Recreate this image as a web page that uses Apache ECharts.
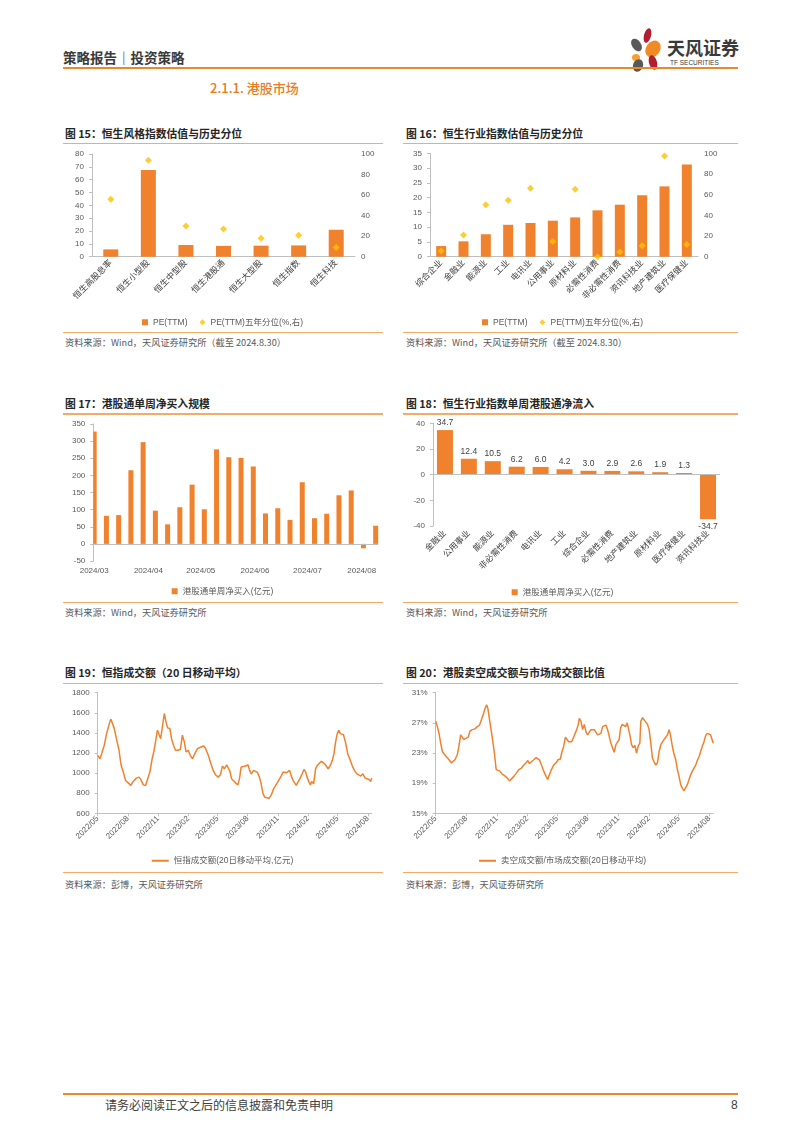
<!DOCTYPE html>
<html lang="zh">
<head>
<meta charset="utf-8">
<title>港股市场</title>
<script src="https://cdn.jsdelivr.net/npm/echarts/dist/echarts.min.js"></script>
<style>
  html,body{margin:0;padding:0;background:#fff;}
  body{width:802px;height:1133px;position:relative;overflow:hidden;font-family:"Noto Sans CJK SC","Liberation Sans",sans-serif;}
  .a{position:absolute;white-space:nowrap;}
  .hl{position:absolute;height:2px;background:#E9892C;}
  .ln{position:absolute;height:1.5px;background:#F3AB66;}
  .ttl{position:absolute;font-size:10.8px;font-weight:bold;color:#262626;line-height:12px;white-space:nowrap;}
  .src{position:absolute;font-size:9.2px;color:#595959;line-height:11px;white-space:nowrap;}
  .ch{position:absolute;width:325px;height:185px;}
  .petal{position:absolute;border-radius:50%;}
</style>
</head>
<body>
<!-- header -->
<div class="a" style="left:63px;top:49px;font-size:13.5px;line-height:16px;font-weight:bold;color:#3a3a3a;">策略报告｜投资策略</div>
<div class="petal" style="left:644px;top:28px;width:7px;height:15px;background:#B01E2F;transform:rotate(15deg);"></div>
<div class="petal" style="left:632px;top:38px;width:9px;height:14px;background:#595959;transform:rotate(-35deg);"></div>
<div class="petal" style="left:646px;top:40px;width:14px;height:18px;background:#F08A24;transform:rotate(35deg);"></div>
<div class="petal" style="left:632px;top:54px;width:8px;height:7px;background:#F5A030;"></div>
<div class="petal" style="left:649px;top:55px;width:8px;height:15px;background:#B01E2F;transform:rotate(-15deg);"></div>
<div class="petal" style="left:633px;top:59px;width:10px;height:13px;background:#595959;transform:rotate(20deg);"></div>
<div class="a" style="left:667px;top:37px;font-size:18px;line-height:20px;font-weight:bold;color:#3a3a3a;">天风证券</div>
<div class="a" style="left:670px;top:58.5px;font-size:6.5px;line-height:8px;color:#3a3a3a;font-family:'Liberation Sans',sans-serif;">TF SECURITIES</div>
<div class="hl" style="left:63px;top:67px;width:675px;"></div>
<div class="a" style="left:210px;top:80px;font-size:13px;line-height:16px;font-weight:500;color:#E97B23;">2.1.1. 港股市场</div>

<!-- row 1 -->
<div class="ttl" style="left:65px;top:126.7px;">图 15：恒生风格指数估值与历史分位</div>
<div class="ttl" style="left:406px;top:126.7px;">图 16：恒生行业指数估值与历史分位</div>
<div class="ln" style="left:63px;top:142.5px;width:320px;"></div>
<div class="ln" style="left:403px;top:142.5px;width:335px;"></div>
<div id="c15" class="ch" style="left:60px;top:145px;"></div>
<div id="c16" class="ch" style="left:400px;top:145px;"></div>
<div class="ln" style="left:63px;top:331.5px;width:320px;"></div>
<div class="ln" style="left:403px;top:331.5px;width:335px;"></div>
<div class="src" style="left:65px;top:337.2px;">资料来源：Wind，天风证券研究所（截至 2024.8.30）</div>
<div class="src" style="left:406px;top:337.2px;">资料来源：Wind，天风证券研究所（截至 2024.8.30）</div>

<!-- row 2 -->
<div class="ttl" style="left:65px;top:396.7px;">图 17：港股通单周净买入规模</div>
<div class="ttl" style="left:406px;top:396.7px;">图 18：恒生行业指数单周港股通净流入</div>
<div class="ln" style="left:63px;top:413.3px;width:320px;"></div>
<div class="ln" style="left:403px;top:413.3px;width:335px;"></div>
<div id="c17" class="ch" style="left:60px;top:415px;"></div>
<div id="c18" class="ch" style="left:400px;top:415px;"></div>
<div class="ln" style="left:63px;top:601.5px;width:320px;"></div>
<div class="ln" style="left:403px;top:601.5px;width:335px;"></div>
<div class="src" style="left:65px;top:607.2px;">资料来源：Wind，天风证券研究所</div>
<div class="src" style="left:406px;top:607.2px;">资料来源：Wind，天风证券研究所</div>

<!-- row 3 -->
<div class="ttl" style="left:65px;top:665.7px;">图 19：恒指成交额（20 日移动平均）</div>
<div class="ttl" style="left:406px;top:665.7px;">图 20：港股卖空成交额与市场成交额比值</div>
<div class="ln" style="left:63px;top:682.5px;width:320px;"></div>
<div class="ln" style="left:403px;top:682.5px;width:335px;"></div>
<div id="c19" class="ch" style="left:60px;top:685px;"></div>
<div id="c20" class="ch" style="left:400px;top:685px;"></div>
<div class="ln" style="left:63px;top:871.5px;width:320px;"></div>
<div class="ln" style="left:403px;top:871.5px;width:335px;"></div>
<div class="src" style="left:65px;top:878.8px;">资料来源：彭博，天风证券研究所</div>
<div class="src" style="left:406px;top:878.8px;">资料来源：彭博，天风证券研究所</div>

<!-- footer -->
<div class="hl" style="left:63px;top:1093px;width:675px;"></div>
<div class="a" style="left:105px;top:1098px;font-size:12px;line-height:14px;color:#404040;">请务必阅读正文之后的信息披露和免责申明</div>
<div class="a" style="left:731px;top:1098px;font-size:12px;line-height:14px;color:#404040;font-family:'Liberation Sans',sans-serif;">8</div>

<script>
// ---------------- data ----------------
const styleCats = ['恒生高股息率','恒生小型股','恒生中型股','恒生港股通','恒生大型股','恒生指数','恒生科技'];
const stylePE = [5.7, 67.5, 9.1, 8.4, 8.6, 8.8, 21.0];
const stylePct = [56, 94, 30, 27, 18, 21, 9];

const sectorCats = ['综合企业','金融业','能源业','工业','电讯业','公用事业','原材料业','必需性消费','非必需性消费','资讯科技业','地产建筑业','医疗保健业'];
const sectorPE = [3.6, 5.2, 7.6, 10.8, 11.4, 12.2, 13.3, 15.7, 17.6, 20.8, 23.8, 31.2];
const sectorPct = [5.5, 21, 50.3, 54.5, 66.1, 14.8, 65.2, 0, 4.5, 10.6, 97.4, 11.9];

const flowWeeks = ['2024-03-01','2024-03-08','2024-03-15','2024-03-22','2024-03-29','2024-04-05','2024-04-12','2024-04-19','2024-04-26','2024-05-03','2024-05-10','2024-05-17','2024-05-24','2024-05-31','2024-06-07','2024-06-14','2024-06-21','2024-06-28','2024-07-05','2024-07-12','2024-07-19','2024-07-26','2024-08-02','2024-08-09'];
const flowValues = [328, 82, 84, 215, 297, 97, 57, 107, 173, 101, 276, 253, 251, 226, 89, 104, 70, 180, 75, 88, 142, 156, -13, 53];
const flowAxisRange = ['2024-03-01', '2024-08-10'];

const sectorFlowCats = ['金融业','公用事业','能源业','非必需性消费','电讯业','工业','综合企业','必需性消费','地产建筑业','原材料业','医疗保健业','资讯科技业'];
const sectorFlowValues = [34.7, 12.4, 10.5, 6.2, 6.0, 4.2, 3.0, 2.9, 2.6, 1.9, 1.3, -34.7];

const lineAxisRange = ['2022-05-18', '2024-08-30'];
const hsiTurnover = [['2022-05-18',1177],['2022-05-25',1143],['2022-05-30',1193],['2022-06-07',1277],['2022-06-14',1393],['2022-06-19',1450],['2022-06-24',1510],['2022-06-27',1537],['2022-07-02',1520],['2022-07-07',1450],['2022-07-14',1343],['2022-07-22',1227],['2022-07-28',1083],['2022-08-04',1010],['2022-08-11',927],['2022-08-19',903],['2022-08-27',877],['2022-09-03',917],['2022-09-13',950],['2022-09-21',960],['2022-09-27',933],['2022-10-04',883],['2022-10-11',877],['2022-10-17',893],['2022-10-24',1010],['2022-10-31',1143],['2022-11-06',1227],['2022-11-11',1327],['2022-11-16',1427],['2022-11-21',1383],['2022-11-26',1343],['2022-12-01',1460],['2022-12-07',1593],['2022-12-12',1510],['2022-12-17',1450],['2022-12-24',1443],['2022-12-29',1343],['2023-01-04',1277],['2023-01-10',1227],['2023-01-18',1227],['2023-01-25',1237],['2023-01-31',1377],['2023-02-06',1310],['2023-02-11',1210],['2023-02-18',1227],['2023-02-24',1177],['2023-03-03',1143],['2023-03-10',1193],['2023-03-18',1243],['2023-03-29',1260],['2023-04-06',1270],['2023-04-12',1243],['2023-04-20',1177],['2023-04-28',1093],['2023-05-05',1027],['2023-05-12',983],['2023-05-20',960],['2023-05-27',983],['2023-06-02',1070],['2023-06-08',1043],['2023-06-15',1083],['2023-06-20',1077],['2023-06-25',1017],['2023-06-30',943],['2023-07-06',950],['2023-07-12',903],['2023-07-16',893],['2023-07-19',883],['2023-07-24',943],['2023-07-29',1060],['2023-08-04',1077],['2023-08-12',1070],['2023-08-19',1083],['2023-08-24',1027],['2023-08-29',993],['2023-09-05',1027],['2023-09-11',1037],['2023-09-16',1010],['2023-09-23',960],['2023-09-28',893],['2023-10-04',793],['2023-10-09',760],['2023-10-14',743],['2023-10-22',750],['2023-10-29',783],['2023-11-05',843],['2023-11-11',850],['2023-11-16',903],['2023-11-21',917],['2023-11-28',970],['2023-12-04',1010],['2023-12-09',1027],['2023-12-14',1003],['2023-12-19',1017],['2023-12-24',1027],['2023-12-29',970],['2024-01-05',917],['2024-01-13',877],['2024-01-19',893],['2024-01-25',950],['2024-01-31',993],['2024-02-06',1037],['2024-02-11',1010],['2024-02-15',960],['2024-02-21',910],['2024-02-25',883],['2024-02-29',917],['2024-03-06',893],['2024-03-12',1043],['2024-03-16',1070],['2024-03-22',1093],['2024-03-29',1117],['2024-04-05',1103],['2024-04-11',1083],['2024-04-19',1043],['2024-04-26',1077],['2024-05-02',1127],['2024-05-07',1193],['2024-05-12',1310],['2024-05-17',1393],['2024-05-22',1427],['2024-05-26',1393],['2024-05-30',1410],['2024-06-05',1383],['2024-06-12',1293],['2024-06-18',1193],['2024-06-24',1143],['2024-07-02',1070],['2024-07-10',1017],['2024-07-16',993],['2024-07-22',977],['2024-07-28',970],['2024-08-03',993],['2024-08-10',950],['2024-08-16',943],['2024-08-22',937],['2024-08-27',917],['2024-08-30',950]];
const shortRatio = [['2022-05-18',27.2],['2022-05-23',26.5],['2022-05-28',25.6],['2022-06-02',24.3],['2022-06-07',23.2],['2022-06-12',22.9],['2022-06-19',22.5],['2022-06-27',22.1],['2022-07-04',21.7],['2022-07-09',21.7],['2022-07-15',22.1],['2022-07-22',22.8],['2022-07-27',23.9],['2022-08-01',25.4],['2022-08-06',25.5],['2022-08-11',24.8],['2022-08-16',25.0],['2022-08-24',25.1],['2022-08-29',25.9],['2022-09-05',26.1],['2022-09-13',26.2],['2022-09-20',26.5],['2022-09-27',26.7],['2022-10-03',26.8],['2022-10-08',28.1],['2022-10-12',28.7],['2022-10-18',29.4],['2022-10-22',28.9],['2022-10-27',27.4],['2022-11-01',27.2],['2022-11-06',24.5],['2022-11-11',22.8],['2022-11-16',20.8],['2022-11-21',20.8],['2022-11-27',20.6],['2022-12-04',20.2],['2022-12-11',20.0],['2022-12-19',19.7],['2022-12-26',19.3],['2023-01-01',19.5],['2023-01-08',19.9],['2023-01-15',20.3],['2023-01-23',20.8],['2023-01-31',21.0],['2023-02-07',21.4],['2023-02-14',21.7],['2023-02-19',22.0],['2023-02-24',21.6],['2023-03-02',21.8],['2023-03-09',22.1],['2023-03-16',22.4],['2023-03-22',22.5],['2023-03-26',22.1],['2023-04-01',21.4],['2023-04-08',20.6],['2023-04-15',19.9],['2023-04-20',19.5],['2023-04-25',20.1],['2023-05-01',20.8],['2023-05-08',21.4],['2023-05-15',21.7],['2023-05-21',22.1],['2023-05-28',22.2],['2023-06-02',23.2],['2023-06-07',23.9],['2023-06-12',25.1],['2023-06-17',24.8],['2023-06-22',24.5],['2023-07-01',24.5],['2023-07-06',25.0],['2023-07-11',25.2],['2023-07-16',26.1],['2023-07-21',26.8],['2023-07-24',27.6],['2023-07-29',27.2],['2023-08-03',26.1],['2023-08-08',26.8],['2023-08-13',25.8],['2023-08-18',25.4],['2023-08-23',25.2],['2023-08-28',26.1],['2023-09-02',26.0],['2023-09-07',26.1],['2023-09-12',25.9],['2023-09-17',25.4],['2023-09-22',25.2],['2023-09-27',25.6],['2023-10-02',26.5],['2023-10-07',26.4],['2023-10-12',26.7],['2023-10-17',26.1],['2023-10-22',25.2],['2023-10-27',24.3],['2023-11-01',23.7],['2023-11-06',23.1],['2023-11-11',24.1],['2023-11-16',24.3],['2023-11-21',24.8],['2023-11-25',26.3],['2023-11-30',26.8],['2023-12-05',27.0],['2023-12-10',26.5],['2023-12-15',27.0],['2023-12-20',27.0],['2023-12-23',25.4],['2023-12-28',24.1],['2024-01-02',23.7],['2024-01-07',24.0],['2024-01-12',23.0],['2024-01-17',23.9],['2024-01-22',24.3],['2024-01-25',27.2],['2024-01-30',27.7],['2024-02-04',27.4],['2024-02-09',27.2],['2024-02-14',26.8],['2024-02-19',26.1],['2024-02-24',24.3],['2024-02-29',22.3],['2024-03-05',21.8],['2024-03-10',21.4],['2024-03-15',21.7],['2024-03-20',23.2],['2024-03-25',24.1],['2024-03-30',24.3],['2024-04-04',24.8],['2024-04-09',24.9],['2024-04-14',25.4],['2024-04-19',26.1],['2024-04-23',25.4],['2024-04-28',24.1],['2024-05-03',23.0],['2024-05-09',22.1],['2024-05-14',20.8],['2024-05-19',19.9],['2024-05-24',18.8],['2024-05-29',18.3],['2024-06-03',18.0],['2024-06-08',18.1],['2024-06-13',18.8],['2024-06-18',19.5],['2024-06-23',20.1],['2024-06-28',20.6],['2024-07-03',21.0],['2024-07-08',21.4],['2024-07-13',22.0],['2024-07-18',22.5],['2024-07-23',23.2],['2024-07-28',23.9],['2024-08-02',24.5],['2024-08-07',25.3],['2024-08-12',25.6],['2024-08-17',25.5],['2024-08-22',25.4],['2024-08-27',25.2],['2024-08-30',24.3]];

// ---------------- helpers ----------------
const ORANGE = '#F0822D';
const GOLD = '#FFC000';
const AX = '#BFBFBF';
const TXT = '#595959';
const FONT = 'Liberation Sans, Noto Sans CJK SC, sans-serif';

function dayList(start, end) {
  const out = [];
  let t = Date.parse(start + 'T00:00:00Z');
  const e = Date.parse(end + 'T00:00:00Z');
  while (t <= e) { out.push(new Date(t).toISOString().slice(0, 10)); t += 86400000; }
  return out;
}
const fmtMonth = v => v.slice(0, 4) + '/' + v.slice(5, 7);
const quarterTick = (i, v) => v.slice(8) === '18' && ((+v.slice(5, 7)) - 5 + 12) % 3 === 0;
const monthStart = (i, v) => v.slice(8) === '01';
const plain = v => String(v);

const txt = (size, color) => ({ fontSize: size, color: color || TXT, fontFamily: FONT });
function yAx(min, max, interval, pos, extra) {
  return Object.assign({
    type: 'value', min, max, interval, position: pos || 'left',
    axisLine: { show: true, lineStyle: { color: AX } },
    axisTick: { show: true, length: 3, lineStyle: { color: AX } },
    splitLine: { show: false },
    axisLabel: Object.assign({ margin: 8, formatter: plain }, txt(8))
  }, extra || {});
}
const zeroLine = {
  silent: true, symbol: ['none', 'none'], label: { show: false },
  lineStyle: { color: AX, type: 'solid', width: 1 },
  data: [{ yAxis: 0 }]
};

// ---------------- charts 15 / 16 ----------------
function peChart(id, cats, pe, pct, leftMax, leftInt, grid, barW) {
  const c = echarts.init(document.getElementById(id));
  c.setOption({
    animation: false,
    grid,
    legend: {
      top: 168, left: 'center', itemGap: 12, itemWidth: 6, itemHeight: 6,
      textStyle: txt(8.5),
      data: [{ name: 'PE(TTM)', icon: 'rect' }, { name: 'PE(TTM)五年分位(%,右)', icon: 'diamond' }]
    },
    xAxis: {
      type: 'category', data: cats,
      axisLine: { lineStyle: { color: AX } }, axisTick: { show: false },
      axisLabel: Object.assign({ rotate: 45, interval: 0, margin: 5 }, txt(8.5, '#404040'))
    },
    yAxis: [
      yAx(0, leftMax, leftInt, 'left'),
      yAx(0, 100, 20, 'right', { axisLine: { show: false }, axisTick: { show: false }, axisLabel: Object.assign({ margin: 6, formatter: plain }, txt(8)) })
    ],
    series: [
      { type: 'bar', name: 'PE(TTM)', data: pe, barWidth: barW, itemStyle: { color: ORANGE } },
      { type: 'scatter', name: 'PE(TTM)五年分位(%,右)', yAxisIndex: 1, data: pct, symbol: 'diamond', symbolSize: 7, itemStyle: { color: GOLD } }
    ]
  });
}
peChart('c15', styleCats, stylePE, stylePct, 80, 10, { left: 32, right: 30, top: 9, bottom: 73.3 }, 15);
peChart('c16', sectorCats, sectorPE, sectorPct, 35, 5, { left: 30, right: 27, top: 8.3, bottom: 73.3 }, 10);

// ---------------- chart 17 ----------------
(function () {
  const c = echarts.init(document.getElementById('c17'));
  c.setOption({
    animation: false,
    grid: { left: 33.3, right: 6.7, top: 9, bottom: 39 },
    legend: { top: 167, left: 'center', itemWidth: 6, itemHeight: 6, icon: 'rect', textStyle: txt(8.5), data: ['港股通单周净买入(亿元)'] },
    xAxis: {
      type: 'category', data: dayList(flowAxisRange[0], flowAxisRange[1]), boundaryGap: true,
      axisLine: { show: false, onZero: false }, axisTick: { show: false },
      axisLabel: Object.assign({ interval: monthStart, formatter: fmtMonth, margin: 6 }, txt(8))
    },
    yAxis: yAx(-50, 350, 50, 'left'),
    series: [{
      type: 'bar', name: '港股通单周净买入(亿元)', barWidth: 5,
      data: flowWeeks.map((d, i) => [d, flowValues[i]]),
      itemStyle: { color: ORANGE }, markLine: zeroLine
    }]
  });
})();

// ---------------- chart 18 ----------------
(function () {
  const c = echarts.init(document.getElementById('c18'));
  c.setOption({
    animation: false,
    grid: { left: 33, right: 5, top: 8.3, bottom: 74 },
    legend: { top: 168, left: 'center', itemWidth: 6, itemHeight: 6, icon: 'rect', textStyle: txt(8.5), data: ['港股通单周净买入(亿元)'] },
    xAxis: {
      type: 'category', data: sectorFlowCats,
      axisLine: { show: false, onZero: false }, axisTick: { show: false },
      axisLabel: Object.assign({ rotate: 45, interval: 0, margin: 6 }, txt(8.5, '#404040'))
    },
    yAxis: yAx(-40, 40, 20, 'left'),
    series: [{
      type: 'bar', name: '港股通单周净买入(亿元)', barWidth: 16,
      data: sectorFlowValues.map(v => v < 0 ? { value: v, label: { position: 'bottom' } } : v),
      itemStyle: { color: ORANGE },
      label: Object.assign({ show: true, position: 'top', distance: 3, formatter: p => p.value.toFixed(1) }, txt(8.5, '#404040')),
      markLine: zeroLine
    }]
  });
})();

// ---------------- charts 19 / 20 ----------------
function lineChart(id, data, name, yMin, yMax, yInt, yFmt, grid) {
  const c = echarts.init(document.getElementById(id));
  c.setOption({
    animation: false,
    grid,
    legend: { top: 166.5, left: 'center', icon: 'rect', itemWidth: 17, itemHeight: 2, textStyle: txt(8.5), data: [name] },
    xAxis: {
      type: 'category', data: dayList(lineAxisRange[0], lineAxisRange[1]), boundaryGap: false,
      axisLine: { lineStyle: { color: AX } },
      axisTick: { show: true, length: 3, interval: quarterTick, lineStyle: { color: AX } },
      axisLabel: Object.assign({ interval: quarterTick, rotate: 45, formatter: fmtMonth, margin: 4 }, txt(8))
    },
    yAxis: yAx(yMin, yMax, yInt, 'left', { axisLabel: Object.assign({ margin: 8, formatter: yFmt }, txt(8)) }),
    series: [{
      type: 'line', name, data, showSymbol: false, symbol: 'none',
      lineStyle: { width: 1.5, color: ORANGE }, itemStyle: { color: ORANGE }
    }]
  });
}
lineChart('c19', hsiTurnover, '恒指成交额(20日移动平均,亿元)', 600, 1800, 200, plain, { left: 37.7, right: 13.3, top: 7.7, bottom: 56.7 });
lineChart('c20', shortRatio, '卖空成交额/市场成交额(20日移动平均)', 15, 31, 4, v => v + '%', { left: 35.7, right: 11.7, top: 7.7, bottom: 56.7 });
</script>
</body>
</html>
